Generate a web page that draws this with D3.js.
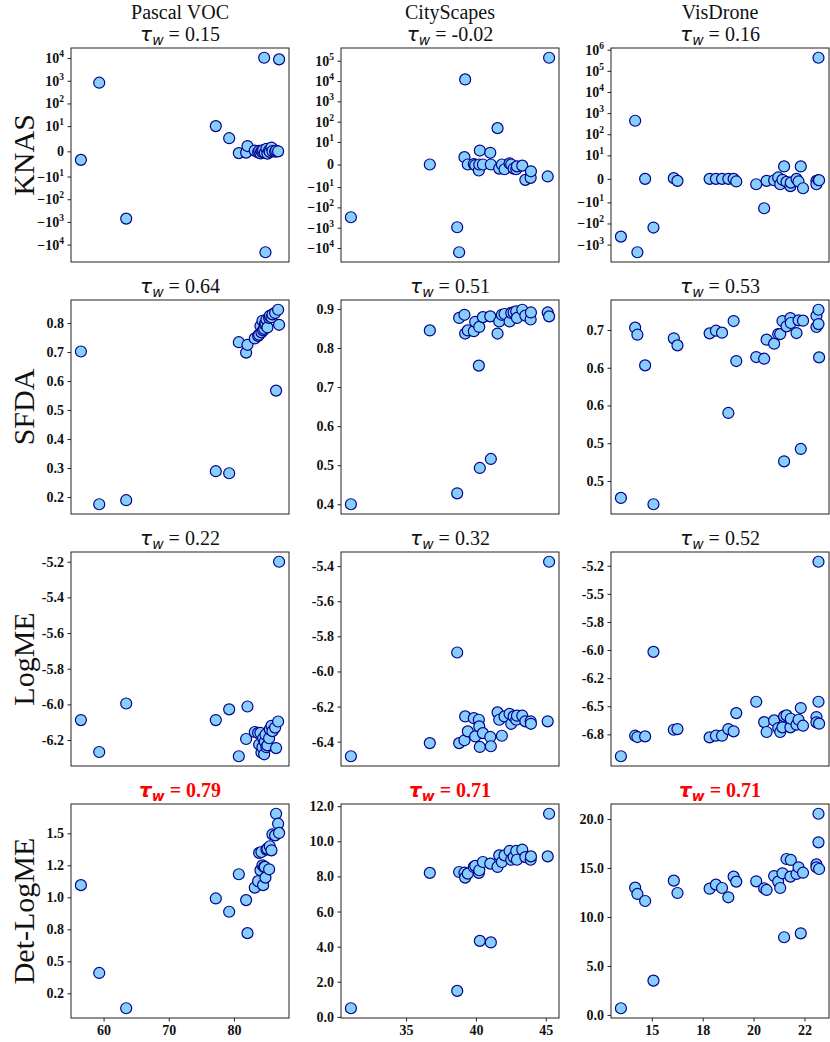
<!DOCTYPE html>
<html><head><meta charset="utf-8">
<script src="https://cdn.jsdelivr.net/npm/d3@7"></script>
<style>body{margin:0;background:#fff}</style>
</head><body>
<svg id="chart" width="830" height="1042"></svg>
<script>
// ---------- data ----------
const datasets = ["Pascal VOC", "CityScapes", "VisDrone"];
const metrics = ["KNAS", "SFDA", "LogME", "Det-LogME"];
const tauValues = [["0.15","-0.02","0.16"],["0.64","0.51","0.53"],["0.22","0.32","0.52"],["0.79","0.71","0.71"]];

const pascalX = [56.52,59.33,63.47,77.22,79.27,80.75,81.87,82.08,83.20,83.71,83.87,84.07,84.22,84.38,84.48,84.64,84.74,84.84,84.99,85.14,85.40,85.50,85.76,85.91,86.32,86.47,86.78,86.93];
const pascalKNAS = [-3.4,820,-716,10,5.2,-0.7,-0.5,2.1,0.3,-0.4,0.2,-0.8,0.1,-0.3,0.5,10350,-0.6,-21800,1.0,-0.9,0.4,-0.2,1.5,0.1,-0.1,0.3,0.0,8750];
const pascalSFDA = [0.702,0.175,0.189,0.289,0.282,0.734,0.698,0.725,0.747,0.756,0.760,0.790,0.768,0.808,0.775,0.780,0.795,0.800,0.812,0.785,0.818,0.825,0.820,0.830,0.835,0.567,0.846,0.794];
const pascalLogME = [-6.088,-6.267,-5.995,-6.088,-6.028,-6.291,-6.194,-6.012,-6.155,-6.160,-6.225,-6.160,-6.270,-6.240,-6.190,-6.280,-6.210,-6.170,-6.240,-6.230,-6.190,-6.140,-6.120,-6.150,-6.130,-6.245,-6.096,-5.200];
const pascalDet = [1.095,0.409,0.133,0.991,0.887,1.180,0.978,0.720,1.076,1.126,1.347,1.212,1.354,1.250,1.095,1.238,1.238,1.154,1.373,1.380,1.219,1.399,1.367,1.492,1.484,1.653,1.575,1.503];

const cityX = [31.05,36.70,38.66,38.80,39.18,39.23,39.42,39.85,39.95,40.21,40.24,40.28,40.50,41.03,41.07,41.55,41.67,41.86,42.05,42.41,42.53,42.70,42.89,42.94,43.32,43.54,43.92,43.94,45.14,45.24];
const cityKNAS = [-306,0,-953,-16250,3.25,12000,0,0.2,-0.3,-2.66,0,6.2,0,5.2,0,47.9,-1.8,0,-2.1,0.5,0,-1.8,-2.1,-0.8,-0.5,-6.8,-5.9,-3.0,-5.3,140600];
const citySFDA = [0.400,0.845,0.428,0.877,0.885,0.837,0.845,0.843,0.867,0.755,0.854,0.493,0.879,0.881,0.516,0.837,0.868,0.885,0.887,0.868,0.890,0.891,0.894,0.877,0.898,0.883,0.873,0.891,0.891,0.881];
const cityLogME = [-6.483,-6.408,-5.892,-6.408,-6.392,-6.256,-6.341,-6.266,-6.370,-6.275,-6.313,-6.430,-6.351,-6.373,-6.426,-6.233,-6.275,-6.366,-6.256,-6.241,-6.298,-6.256,-6.275,-6.252,-6.252,-6.284,-6.284,-6.298,-6.284,-5.375];
const cityDet = [0.49,8.20,1.48,8.25,8.21,7.93,8.16,8.54,8.60,8.20,8.35,4.33,8.82,8.73,4.24,8.54,9.20,8.82,9.20,9.45,8.95,9.10,9.45,8.95,9.52,9.10,8.95,9.14,9.14,11.57];

const visX = [13.48,14.18,14.29,14.67,15.08,16.08,16.26,17.84,18.15,18.45,18.76,19.02,19.15,20.13,20.52,20.64,21.01,21.21,21.31,21.42,21.50,21.62,21.81,21.83,22.11,22.21,22.32,22.43,23.09,23.09,23.19,23.19,23.22];
const visKNAS = [-418,434,-2307,0,-156,0.3,-0.85,0,0,0,0,0,-1.1,-2.3,-19.0,-0.85,-0.6,0.6,-2.3,-0.4,5.3,-1.3,-3.1,-1.6,0,-1.1,5.3,-4.0,-0.85,-2.3,417800,-0.5,-0.6];
const visSFDA = [0.4525,0.6781,0.6688,0.6282,0.4441,0.6640,0.6547,0.6706,0.6741,0.6715,0.5651,0.6869,0.6339,0.6392,0.6370,0.6622,0.6569,0.6697,0.6697,0.6869,0.5010,0.6799,0.6909,0.6843,0.6710,0.6878,0.5174,0.6874,0.6940,0.6790,0.7019,0.6829,0.6388];
const visLogME = [-6.945,-6.762,-6.774,-6.768,-6.016,-6.709,-6.703,-6.777,-6.762,-6.762,-6.703,-6.723,-6.561,-6.460,-6.641,-6.729,-6.626,-6.694,-6.729,-6.688,-6.590,-6.581,-6.688,-6.611,-6.664,-6.620,-6.516,-6.673,-6.596,-6.643,-5.214,-6.460,-6.655];
const visDet = [0.68,12.99,12.35,11.63,3.50,13.71,12.45,12.89,13.30,12.96,12.01,14.12,13.61,13.64,12.93,12.76,14.18,13.61,12.96,14.46,7.93,15.92,14.12,15.82,14.39,15.07,8.33,14.52,15.37,15.07,20.54,17.62,14.90];

// tick values and labels
const xTickValues = [[60,70,80],[35,40,45],[15,17.5,20,22.5]];
const xTickLabels = [["60","70","80"],["35","40","45"],["15","18","20","22"]];
const knasTicks = [
  [1e4,1e3,1e2,10,0,-10,-1e2,-1e3,-1e4],
  [1e5,1e4,1e3,1e2,10,0,-10,-1e2,-1e3,-1e4],
  [1e6,1e5,1e4,1e3,1e2,10,0,-10,-1e2,-1e3]
];
const sfdaTicks = [[0.2,0.3,0.4,0.5,0.6,0.7,0.8],[0.4,0.5,0.6,0.7,0.8,0.9],[0.475,0.525,0.575,0.625,0.675]];
const sfdaLabels = [["0.2","0.3","0.4","0.5","0.6","0.7","0.8"],["0.4","0.5","0.6","0.7","0.8","0.9"],["0.5","0.5","0.6","0.6","0.7"]];
const logmeTicks = [[-6.2,-6.0,-5.8,-5.6,-5.4,-5.2],[-6.4,-6.2,-6.0,-5.8,-5.6,-5.4],[-6.75,-6.5,-6.25,-6.0,-5.75,-5.5,-5.25]];
const logmeLabels = [["-6.2","-6.0","-5.8","-5.6","-5.4","-5.2"],["-6.4","-6.2","-6.0","-5.8","-5.6","-5.4"],["-6.8","-6.5","-6.2","-6.0","-5.8","-5.5","-5.2"]];
const detTicks = [[0.25,0.5,0.75,1.0,1.25,1.5],[0,2,4,6,8,10,12],[0,5,10,15,20]];
const detLabels = [["0.2","0.5","0.8","1.0","1.2","1.5"],["0.0","2.0","4.0","6.0","8.0","10.0","12.0"],["0.0","5.0","10.0","15.0","20.0"]];

// ---------- assembly ----------
const xs = [pascalX, cityX, visX];
const ys = [
  [pascalKNAS, cityKNAS, visKNAS],
  [pascalSFDA, citySFDA, visSFDA],
  [pascalLogME, cityLogME, visLogME],
  [pascalDet, cityDet, visDet]
];
const yTicks = [knasTicks, sfdaTicks, logmeTicks, detTicks];
const yLabels = [null, sfdaLabels, logmeLabels, detLabels];

// matplotlib-like symlog (linthresh=10, linscale=1), in decade units
const LT = 10, LS = 1 / (1 - 1 / 10);
const symT = v => Math.abs(v) <= LT ? (v / LT) * LS : Math.sign(v) * (LS + Math.log10(Math.abs(v) / LT));

const colLeft = [71, 341, 611], rowTop = [48, 300, 552, 804];
const PW = 218, PH = 214;
const serif = "'Liberation Serif','Times New Roman',serif";

const svg = d3.select("#chart");
svg.append("rect").attr("width", 830).attr("height", 1042).attr("fill", "#fff");

function pad(ext) { const d = (ext[1] - ext[0]) * 0.05; return [ext[0] - d, ext[1] + d]; }

for (let r = 0; r < 4; r++) {
  for (let c = 0; c < 3; c++) {
    const g = svg.append("g").attr("transform", `translate(${colLeft[c]},${rowTop[r]})`);
    const tf = r === 0 ? symT : (v => v);
    const xv = xs[c], yv = ys[r][c];
    const x = d3.scaleLinear().domain(pad(d3.extent(xv))).range([0, PW]);
    const y = d3.scaleLinear().domain(pad(d3.extent(yv.map(tf)))).range([PH, 0]);

    // y axis
    const ticks = yTicks[r][c];
    const ax = d3.axisLeft(y).tickValues(ticks.map(tf)).tickSize(3.5).tickPadding(3.5)
      .tickFormat((d, i) => r === 0 ? "" : yLabels[r][c][i]);
    const ag = g.append("g").call(ax);
    ag.attr("font-family", null).attr("font-size", null);
    ag.select(".domain").remove();
    ag.selectAll(".tick line").attr("stroke", "#222").attr("stroke-width", 1);
    ag.selectAll(".tick text").style("font-family", serif).style("font-size", "14px")
      .style("font-weight", "bold").attr("fill", "#111");
    if (r === 0) {
      ag.selectAll(".tick text").each(function(d, i) {
        const v = ticks[i];
        const t = d3.select(this);
        t.text(null);
        if (v === 0) { t.text("0"); return; }
        const e = Math.round(Math.log10(Math.abs(v)));
        t.append("tspan").text((v < 0 ? "\u2212" : "") + "10");
        t.append("tspan").attr("dy", -6).style("font-size", "9.5px").text(String(e));
      });
    }

    // bottom axis only on last row
    if (r === 3) {
      const bx = d3.axisBottom(x).tickValues(xTickValues[c]).tickSize(3.5).tickPadding(3.5)
        .tickFormat((d, i) => xTickLabels[c][i]);
      const bg = g.append("g").attr("transform", `translate(0,${PH})`).call(bx);
      bg.attr("font-family", null).attr("font-size", null);
      bg.select(".domain").remove();
      bg.selectAll(".tick line").attr("stroke", "#222");
      bg.selectAll(".tick text").style("font-family", serif).style("font-size", "14px")
        .style("font-weight", "bold").attr("fill", "#111");
    }

    // points
    g.append("g").selectAll("circle").data(d3.range(xv.length)).join("circle")
      .attr("cx", i => x(xv[i])).attr("cy", i => y(tf(yv[i])))
      .attr("r", 5.5).attr("fill", "#87CEFA").attr("stroke", "#00008B").attr("stroke-width", 1.2);

    // frame
    g.append("rect").attr("width", PW).attr("height", PH).attr("fill", "none")
      .attr("stroke", "#222").attr("stroke-width", 1);

    // titles
    const cx = PW / 2;
    if (r === 0) {
      g.append("text").attr("x", cx).attr("y", -29.5).attr("text-anchor", "middle")
        .style("font-family", serif).style("font-size", "20px").attr("fill", "#111").text(datasets[c]);
    }
    const bold = r === 3;
    const tt = g.append("text").attr("x", cx).attr("y", -7.5).attr("text-anchor", "middle")
      .style("font-family", serif).style("font-size", "20px")
      .attr("fill", bold ? "#ff0000" : "#111").style("font-weight", bold ? "bold" : "normal");
    tt.append("tspan").style("font-family", "'DejaVu Sans',sans-serif").style("font-style", "italic").text("\u03C4");
    tt.append("tspan").style("font-family", "'DejaVu Sans',sans-serif").style("font-style", "italic")
      .style("font-size", "14px").attr("dy", 4).text("w");
    tt.append("tspan").attr("dy", -4).text(" = " + tauValues[r][c]);

    // row label
    if (c === 0) {
      g.append("text").attr("transform", `translate(${34 - colLeft[0]},${PH / 2}) rotate(-90)`)
        .attr("text-anchor", "middle").style("font-family", serif).style("font-size", "30px")
        .attr("fill", "#111").text(metrics[r]);
    }
  }
}
</script>
</body></html>
